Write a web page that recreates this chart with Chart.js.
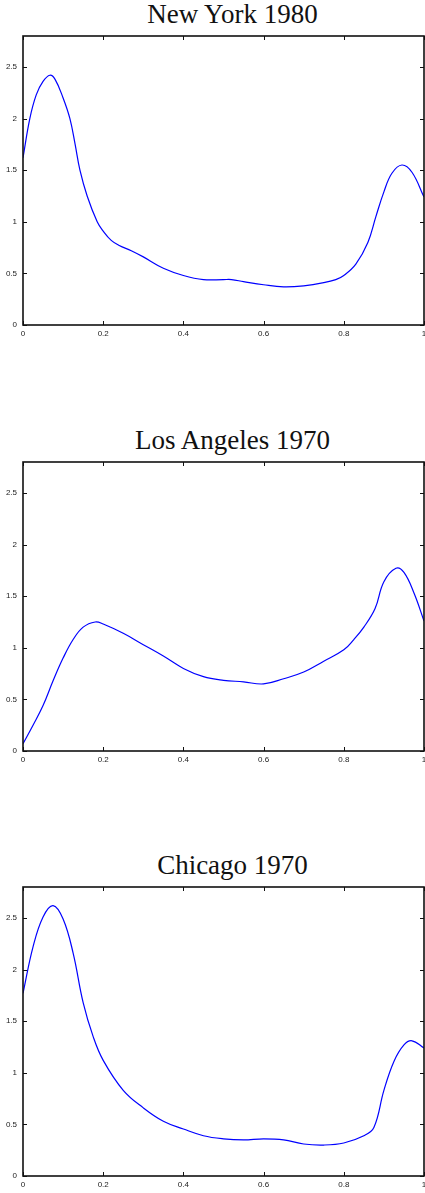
<!DOCTYPE html>
<html lang="en">
<head>
<meta charset="utf-8">
<title>Courbes par ville</title>
<script src="https://cdn.jsdelivr.net/npm/chart.js@4/dist/chart.umd.min.js"></script>
<style>
  html, body { margin: 0; padding: 0; background: #fff; }
  body { width: 425px; height: 1193px; position: relative; overflow: hidden; }
  .panneau { position: absolute; left: 0; width: 425px; height: 426px; }
  .titre {
    position: absolute; left: 0; top: 1px; width: 465px;
    text-align: center; white-space: nowrap;
    font-family: "Liberation Serif", "DejaVu Serif", serif;
    font-size: 27px; line-height: 26px; color: #111;
  }
  canvas { position: absolute; left: 0; top: 0; }
</style>
</head>
<body>

<div class="panneau" style="top:0px">
  <div class="titre">New York 1980</div>
  <canvas id="grapheNY" width="425" height="345"></canvas>
</div>
<div class="panneau" style="top:426px">
  <div class="titre">Los Angeles 1970</div>
  <canvas id="grapheLA" width="425" height="345"></canvas>
</div>
<div class="panneau" style="top:851px">
  <div class="titre">Chicago 1970</div>
  <canvas id="grapheCHI" width="425" height="345"></canvas>
</div>

<script>
// graduations communes aux trois graphiques
const xTicks = [0, 0.2, 0.4, 0.6, 0.8, 1];
const yTicks = [0, 0.5, 1, 1.5, 2, 2.5];
const yMax = 2.8;

// New York 1980
const xNewYork = [0, 0.017, 0.033, 0.05, 0.067, 0.08, 0.1, 0.117, 0.13, 0.142, 0.16, 0.185, 0.2, 0.22, 0.24, 0.27, 0.3,
  0.35, 0.4, 0.45, 0.5, 0.52, 0.55, 0.6, 0.65, 0.7, 0.75, 0.78, 0.8, 0.83, 0.86, 0.88, 0.9, 0.92, 0.945, 0.97, 1];
const yNewYork = [1.62, 2.0, 2.23, 2.36, 2.42, 2.38, 2.2, 2.0, 1.75, 1.5, 1.25, 1.0, 0.91, 0.82, 0.77, 0.72, 0.66,
  0.55, 0.48, 0.44, 0.44, 0.44, 0.42, 0.39, 0.37, 0.38, 0.41, 0.44, 0.48, 0.59, 0.8, 1.05, 1.29, 1.47, 1.55, 1.48, 1.24];

// Los Angeles 1970
const xLosAngeles = [0, 0.025, 0.05, 0.075, 0.1, 0.125, 0.15, 0.18, 0.2, 0.25, 0.3, 0.35, 0.4, 0.45,
  0.5, 0.55, 0.6, 0.65, 0.7, 0.75, 0.8, 0.825, 0.85, 0.878, 0.9, 0.93, 0.95, 0.975, 1];
const yLosAngeles = [0.07, 0.25, 0.44, 0.68, 0.9, 1.08, 1.2, 1.25, 1.23, 1.14, 1.03, 0.92, 0.8, 0.72,
  0.685, 0.67, 0.65, 0.7, 0.765, 0.87, 0.98, 1.08, 1.2, 1.38, 1.64, 1.77, 1.73, 1.53, 1.26];

// Chicago 1970
const xChicago = [0, 0.025, 0.05, 0.075, 0.1, 0.125, 0.15, 0.175, 0.2, 0.25, 0.3, 0.35, 0.4, 0.45,
  0.5, 0.55, 0.6, 0.65, 0.7, 0.75, 0.8, 0.85, 0.875, 0.9, 0.925, 0.95, 0.97, 1];
const yChicago = [1.77, 2.22, 2.51, 2.62, 2.49, 2.16, 1.68, 1.35, 1.12, 0.83, 0.66, 0.53, 0.455, 0.39,
  0.36, 0.35, 0.36, 0.35, 0.31, 0.30, 0.32, 0.39, 0.47, 0.83, 1.11, 1.27, 1.31, 1.24];

// cadre noir + petites graduations tournées vers l'intérieur sur les 4 côtés
const cadre = {
  id: 'cadre',
  afterDatasetsDraw(chart) {
    const { ctx, chartArea: a, scales: { x, y } } = chart;
    const lg = 4;
    ctx.save();
    ctx.strokeStyle = '#111';
    ctx.lineWidth = 1;
    ctx.beginPath();
    x.ticks.forEach((t) => {
      const px = Math.round(x.getPixelForValue(t.value)) + 0.5;
      ctx.moveTo(px, a.bottom); ctx.lineTo(px, a.bottom - lg);
      ctx.moveTo(px, a.top); ctx.lineTo(px, a.top + lg);
    });
    y.ticks.forEach((t) => {
      const py = Math.round(y.getPixelForValue(t.value)) + 0.5;
      ctx.moveTo(a.left, py); ctx.lineTo(a.left + lg, py);
      ctx.moveTo(a.right, py); ctx.lineTo(a.right - lg, py);
    });
    ctx.stroke();
    ctx.lineWidth = 1.6;
    ctx.strokeRect(a.left, a.top, a.right - a.left, a.bottom - a.top);
    ctx.restore();
  }
};

const policeTicks = { family: '"Liberation Sans", Arial, sans-serif', size: 8 };

function creerGraphe(id, xs, ys) {
  const points = xs.map((v, i) => ({ x: v, y: ys[i] }));
  const ctx = document.getElementById(id).getContext('2d');
  return new Chart(ctx, {
    type: 'line',
    data: {
      datasets: [{
        data: points,
        borderColor: '#0000ff',
        borderWidth: 1.2,
        pointRadius: 0,
        tension: 0.4, // courbe lissée
        fill: false
      }]
    },
    options: {
      responsive: false,
      animation: false,
      events: [],
      layout: { padding: { top: 36, right: 1, left: 0, bottom: 0 } },
      plugins: { legend: { display: false }, tooltip: { enabled: false }, title: { display: false } },
      scales: {
        x: {
          type: 'linear',
          min: 0,
          max: 1,
          grid: { display: false, drawTicks: false },
          border: { display: false },
          afterBuildTicks: (s) => { s.ticks = xTicks.map((v) => ({ value: v })); },
          afterFit: (s) => { s.height = 20; s.paddingLeft = 0; s.paddingRight = 0; },
          ticks: { font: policeTicks, color: '#222', padding: 4, maxRotation: 0, autoSkip: false,
                   callback: (v) => String(v) }
        },
        y: {
          type: 'linear',
          min: 0,
          max: yMax,
          grid: { display: false, drawTicks: false },
          border: { display: false },
          afterBuildTicks: (s) => { s.ticks = yTicks.map((v) => ({ value: v })); },
          afterFit: (s) => { s.width = 23; },
          ticks: { font: policeTicks, color: '#222', padding: 6, autoSkip: false,
                   callback: (v) => String(v) }
        }
      }
    },
    plugins: [cadre]
  });
}

creerGraphe('grapheNY', xNewYork, yNewYork);
creerGraphe('grapheLA', xLosAngeles, yLosAngeles);
creerGraphe('grapheCHI', xChicago, yChicago);
</script>
</body>
</html>
